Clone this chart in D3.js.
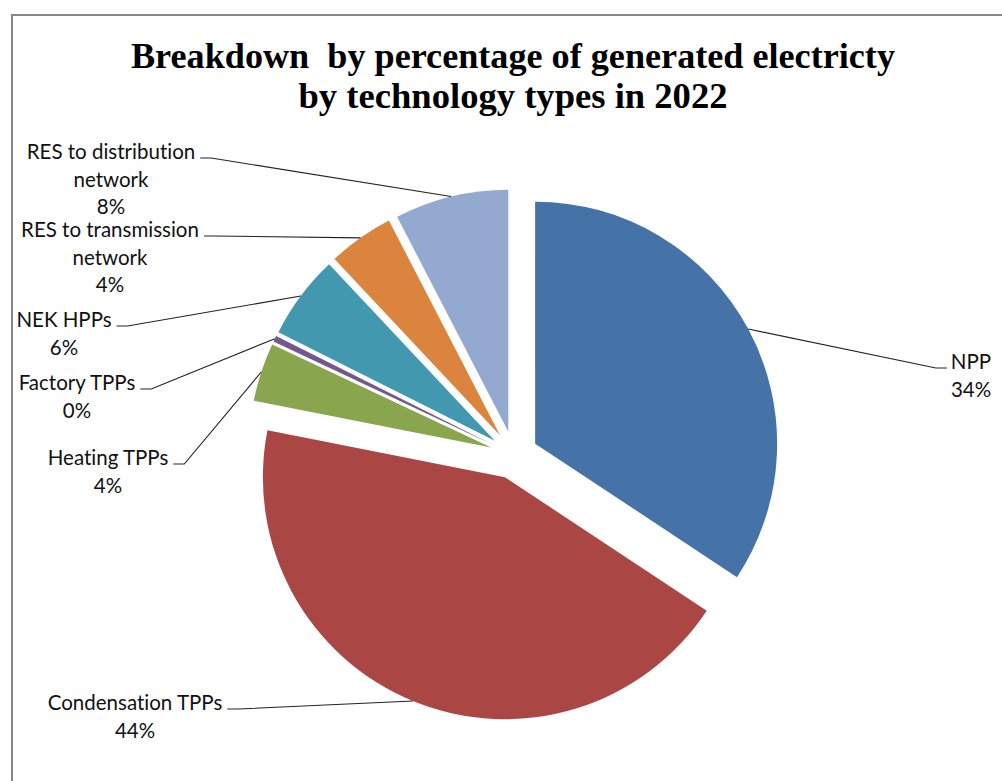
<!DOCTYPE html>
<html>
<head>
<meta charset="utf-8">
<script src="https://cdn.jsdelivr.net/npm/d3@7"></script>
<style>
  html, body { margin: 0; padding: 0; background: #fff; }
  svg { display: block; }
  .lbl { font-variant-ligatures: none; font-feature-settings: "liga" 0; }
</style>
</head>
<body>
<svg id="chart" width="1002" height="781"></svg>
<script>
// Share of generated electricity by technology type, 2022 (percent)
const categories = [
  "NPP",
  "Condensation TPPs",
  "Heating TPPs",
  "Factory TPPs",
  "NEK HPPs",
  "RES to transmission network",
  "RES to distribution network"
];
const shares = [34.3, 43.8, 3.9, 0.4, 5.6, 4.4, 7.6];
const colors = ["#4572A7", "#AA4643", "#89A54E", "#71588F", "#4198AF", "#DB843D", "#93A9CF"];
const titleLines = [
  "Breakdown  by percentage of generated electricty",
  "by technology types in 2022"
];

// Label block placement: centre x of the text block and baseline of its first line
const labelPlacement = [
  { cx: 971, y: 369 },
  { cx: 135, y: 710 },
  { cx: 108, y: 465 },
  { cx: 77,  y: 390 },
  { cx: 64,  y: 327 },
  { cx: 110, y: 237 },
  { cx: 111, y: 159 }
];

const W = 1002, H = 781;
const cx = 514, cy = 455, radius = 242, explode = 24;
const lineHeight = 27.5;
const labelFont = "Lato, 'Open Sans', sans-serif";
const labelSize = 20.5;

const svg = d3.select("#chart");

// frame around the chart area
svg.append("rect")
  .attr("x", 12).attr("y", 15)
  .attr("width", W + 20).attr("height", H + 20)
  .attr("fill", "none")
  .attr("stroke", "#878787")
  .attr("stroke-width", 2);

// title
const title = svg.append("text")
  .attr("text-anchor", "middle")
  .attr("font-family", "'Liberation Serif', 'Times New Roman', serif")
  .attr("font-weight", "bold")
  .attr("font-size", 36)
  .attr("fill", "#000")
  .style("white-space", "pre");
const titleWidths = [764, 429];
titleLines.forEach((t, i) => {
  title.append("tspan")
    .attr("x", 513)
    .attr("y", 68 + i * 40)
    .attr("textLength", titleWidths[i])
    .attr("lengthAdjust", "spacingAndGlyphs")
    .text(t);
});

// pie
const pie = d3.pie().sort(null).value(d => d);
const arcs = pie(shares);
const arc = d3.arc().innerRadius(0).outerRadius(radius);
const rimArc = d3.arc().innerRadius(radius).outerRadius(radius);
const total = d3.sum(shares);
const pct = d3.format(".0%");

function offset(d) {
  const a = (d.startAngle + d.endAngle) / 2;
  return [Math.sin(a) * explode, -Math.cos(a) * explode];
}

const g = svg.append("g").attr("transform", `translate(${cx},${cy})`);

g.selectAll("path.slice")
  .data(arcs)
  .join("path")
  .attr("class", "slice")
  .attr("transform", d => { const o = offset(d); return `translate(${o[0]},${o[1]})`; })
  .attr("d", arc)
  .attr("fill", (d, i) => colors[i]);

// word-wrap a label into lines no wider than maxW
const measure = svg.append("text")
  .attr("class", "lbl")
  .attr("font-family", labelFont).attr("font-size", labelSize)
  .attr("visibility", "hidden");
function textWidth(s) { measure.text(s); return measure.node().getComputedTextLength(); }
function wrap(s, maxW) {
  const words = s.split(" ");
  const lines = [];
  let cur = "";
  words.forEach(w => {
    const trial = cur ? cur + " " + w : w;
    if (cur && textWidth(trial) > maxW) { lines.push(cur); cur = w; }
    else cur = trial;
  });
  if (cur) lines.push(cur);
  return lines;
}

const labels = svg.append("g");
arcs.forEach((d, i) => {
  const place = labelPlacement[i];
  const lines = wrap(categories[i], 225);
  lines.push(pct(shares[i] / total));

  const txt = labels.append("text")
    .attr("class", "lbl")
    .attr("font-family", labelFont)
    .attr("font-size", labelSize)
    .attr("fill", "#111")
    .attr("text-anchor", "middle");
  lines.forEach((l, k) => {
    txt.append("tspan").attr("x", place.cx).attr("y", place.y + k * lineHeight).text(l);
  });

  // leader line from the slice rim to the first line of the label
  const o = offset(d);
  const rim = rimArc.centroid(d);
  const px = cx + o[0] + rim[0], py = cy + o[1] + rim[1];
  const w0 = textWidth(lines[0]);
  const rightSide = px > place.cx;
  const ly = place.y - 1;
  const x0 = rightSide ? place.cx + w0 / 2 + 5 : place.cx - w0 / 2 - 4;
  const x1 = rightSide ? x0 + 11 : x0 - 11;
  labels.append("path")
    .attr("d", d3.line()([[px, py], [x1, ly], [x0, ly]]))
    .attr("fill", "none")
    .attr("stroke", "#222")
    .attr("stroke-width", 1.1);
});
measure.remove();
</script>
</body>
</html>
